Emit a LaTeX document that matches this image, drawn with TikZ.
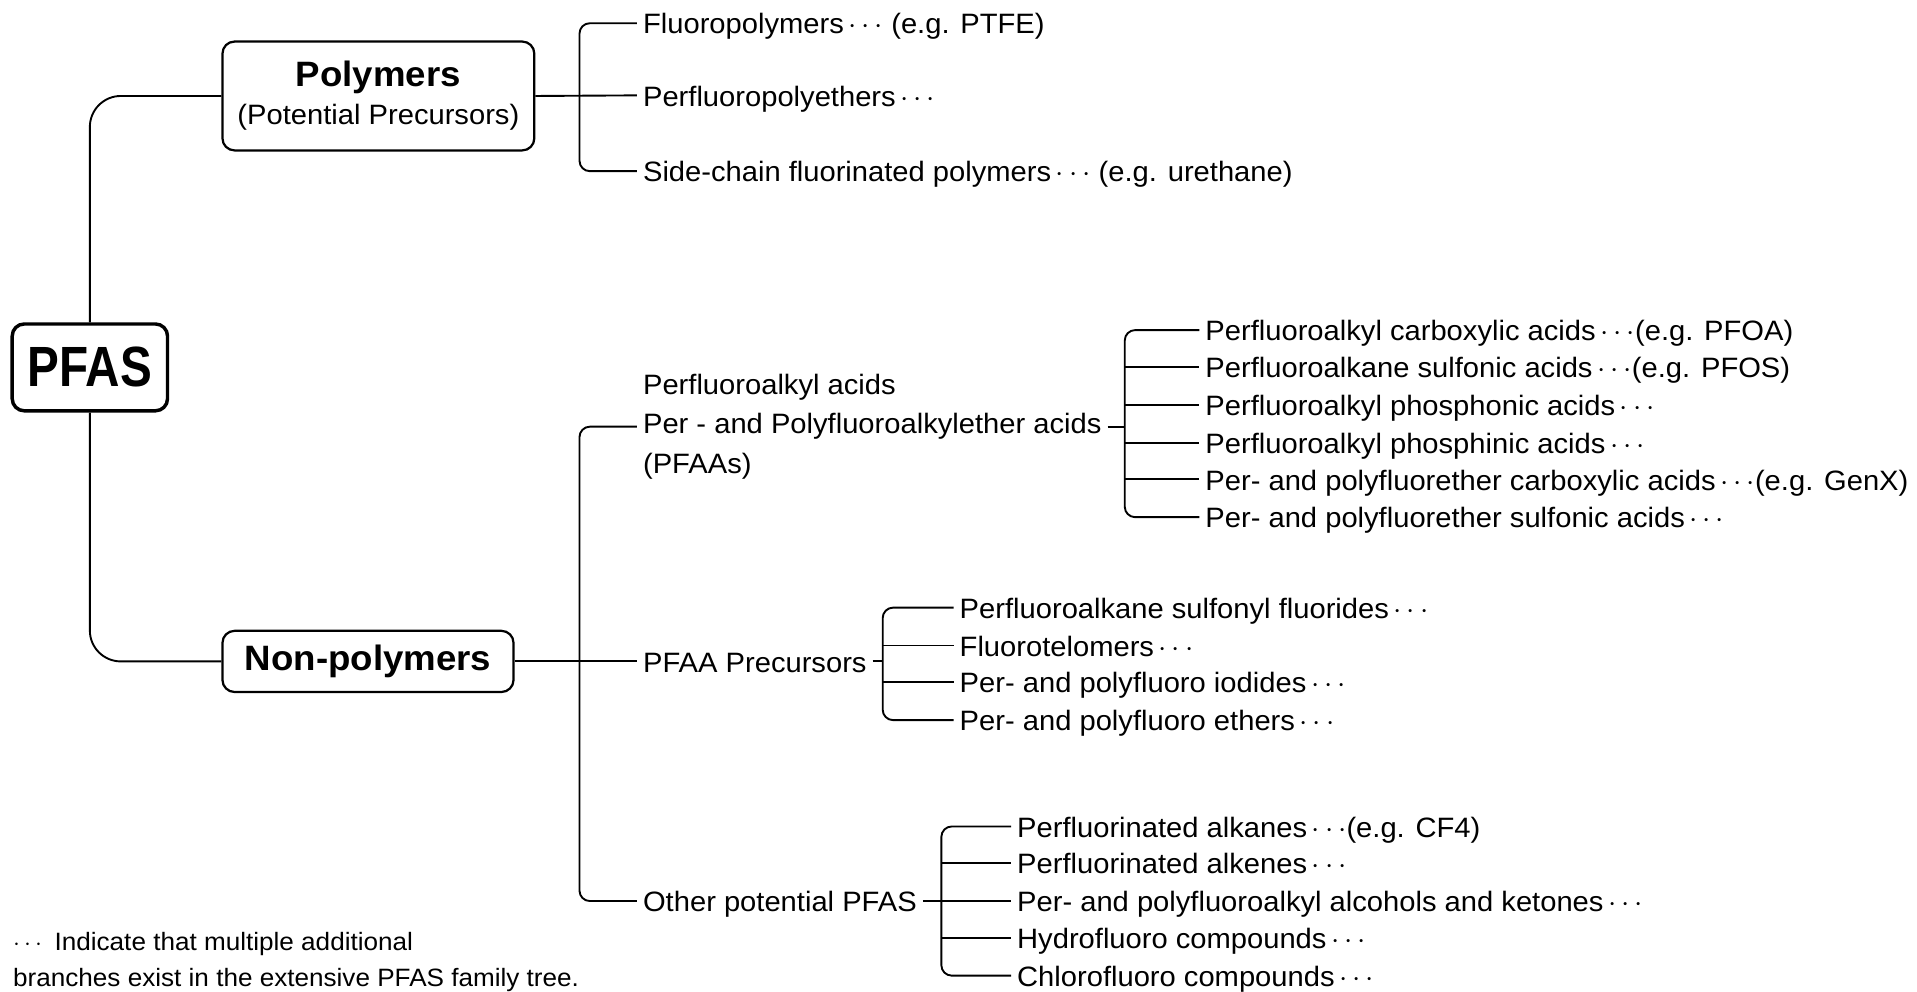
\documentclass[tikz,border=0pt]{standalone}
\usepackage{fontspec}
\setmainfont[FakeStretch=1.04]{Liberation Sans}
\newfontfamily\condfont[FakeStretch=0.84]{Liberation Sans}
\usetikzlibrary{positioning}
\newcommand{\more}{\,$\cdots$}

\begin{document}
\begin{tikzpicture}[x=0.025cm, y=-0.025cm, line width=1.1pt,
    font=\fontsize{16.3}{19}\selectfont,
    rootbox/.style={draw, line width=2pt, rounded corners=7pt, minimum width=3.175cm,
      minimum height=1.775cm, font=\condfont\fontsize{33}{38}\selectfont\bfseries},
    groupbox/.style={draw, line width=1.3pt, rounded corners=7pt, align=center},
    leaf/.style={anchor=west, inner sep=3pt, text height=12.5pt, text depth=0pt},
  ]
    % Parameters
    \def\rc{6pt}
    \useasboundingbox (0,0) rectangle (1568,811);

    % Root and the two groups
    \node[rootbox] (pfas) at (73.5,300.5) {PFAS};
    \node[groupbox, minimum width=6.375cm, minimum height=2.225cm] (poly) at (309.5,78.5)
      {{\fontsize{20.5}{24}\selectfont\bfseries Polymers}\\[3pt](Potential Precursors)};
    \node[groupbox, minimum width=5.95cm, minimum height=1.25cm,
      font=\fontsize{20.5}{24}\selectfont\bfseries] (nonpoly) at (301,541) {Non-polymers};
    \draw[rounded corners=18pt] (poly.west) -| (pfas.north);
    \draw[rounded corners=18pt] (nonpoly.west) -| (pfas.south);

    % Polymers
    \coordinate (pbx) at (474,78);
    \node[leaf] (fp) at (521,19) {Fluoropolymers\more{} (e.g. PTFE)};
    \node[leaf] (pfpe) at (521,78) {Perfluoropolyethers\more};
    \node[leaf] (scfp) at (521,140) {Side-chain fluorinated polymers\more{} (e.g. urethane)};
    \draw (poly.east) -- (pfpe.west);
    \draw[rounded corners=\rc] (fp.west) -| (pbx) |- (scfp.west);

    % Non-polymers
    \coordinate (nbx) at (474,541);
    \node[anchor=west, inner sep=3pt, align=left, font=\fontsize{16.3}{22.8}\selectfont] (pfaa) at (521,349)
      {Perfluoroalkyl acids\\Per - and Polyfluoroalkylether acids\\(PFAAs)};
    \node[leaf] (prec) at (521,541) {PFAA Precursors};
    \node[leaf] (other) at (521,737) {Other potential PFAS};
    \draw (nonpoly.east) -- (prec.west);
    \draw[rounded corners=\rc] (pfaa.west) -| (nbx) |- (other.west);

    % PFAAs
    \coordinate (abx) at (920,347);
    \node[leaf] (a1) at (981,270) {Perfluoroalkyl carboxylic acids\more{}(e.g. PFOA)};
    \node[leaf] (a2) at (981,300) {Perfluoroalkane sulfonic acids\more{}(e.g. PFOS)};
    \node[leaf] (a3) at (981,331) {Perfluoroalkyl phosphonic acids\more};
    \node[leaf] (a4) at (981,362) {Perfluoroalkyl phosphinic acids\more};
    \node[leaf] (a5) at (981,392) {Per- and polyfluorether carboxylic acids\more{}(e.g. GenX)};
    \node[leaf] (a6) at (981,423) {Per- and polyfluorether sulfonic acids\more};
    \draw (pfaa.east) -- (pfaa.east -| abx);
    \draw[rounded corners=\rc] (a1.west) -| (abx) |- (a6.west);
    \foreach \i in {2,...,5}
      \draw (a\i.west -| abx) -- (a\i.west);

    % PFAA precursors
    \coordinate (bbx) at (722,541);
    \node[leaf] (b1) at (780,497) {Perfluoroalkane sulfonyl fluorides\more};
    \node[leaf] (b2) at (780,528) {Fluorotelomers\more};
    \node[leaf] (b3) at (780,558) {Per- and polyfluoro iodides\more};
    \node[leaf] (b4) at (780,589) {Per- and polyfluoro ethers\more};
    \draw (prec.east) -- (bbx);
    \draw[rounded corners=\rc] (b1.west) -| (bbx) |- (b4.west);
    \foreach \i in {2,3}
      \draw (b\i.west -| bbx) -- (b\i.west);

    % Other potential PFAS
    \coordinate (cbx) at (770,737);
    \node[leaf] (c1) at (827,676) {Perfluorinated alkanes\more{}(e.g. CF4)};
    \node[leaf] (c2) at (827,706) {Perfluorinated alkenes\more};
    \node[leaf] (c3) at (827,737) {Per- and polyfluoroalkyl alcohols and ketones\more};
    \node[leaf] (c4) at (827,767) {Hydrofluoro compounds\more};
    \node[leaf] (c5) at (827,798) {Chlorofluoro compounds\more};
    \draw (other.east) -- (c3.west);
    \draw[rounded corners=\rc] (c1.west) -| (cbx) |- (c5.west);
    \foreach \i in {2,4}
      \draw (c\i.west -| cbx) -- (c\i.west);

    % Footnote
    \node[anchor=north west, inner sep=0pt, align=left, font=\fontsize{14.6}{20.6}\selectfont] (note) at (10,762)
      {$\cdots$\enspace Indicate that multiple additional\\branches exist in the extensive PFAS family tree.};
  \end{tikzpicture}
\end{document}
